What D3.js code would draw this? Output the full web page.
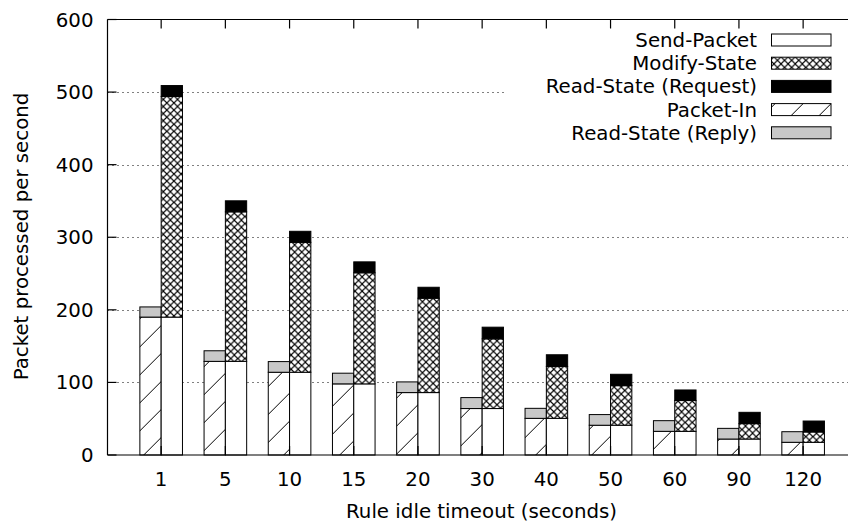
<!DOCTYPE html>
<html>
<head>
<meta charset="utf-8">
<script src="https://cdn.jsdelivr.net/npm/d3@7"></script>
<style>
  body { margin: 0; background: #fff; }
  svg { display: block; font-family: "DejaVu Sans", sans-serif; }
</style>
</head>
<body>
<div id="display"></div>
<script>
// Categories (rule idle timeout, seconds)
const timeouts = ["1", "5", "10", "15", "20", "30", "40", "50", "60", "90", "120"];

// Left bar: Packet-In + Read-State (Reply)
const packetIn   = [190, 129, 114, 98, 86, 64, 50.5, 41, 32.6, 22, 17.5];
const readReply  = [14, 14.6, 14.7, 14.7, 14.7, 15.1, 13.8, 14.7, 14.7, 14.7, 14.6];

// Right bar: Send-Packet + Modify-State + Read-State (Request)
const sendPacket  = [190, 129, 114, 98, 86, 64, 50.5, 41, 32.6, 22, 17.5];
const modifyState = [304, 206, 179, 153, 130, 96, 71.5, 54.5, 42.4, 21.2, 14.2];
const readRequest = [15, 15.2, 15.2, 15.1, 15.1, 16.1, 16.1, 15.7, 14.6, 15.6, 15.1];

const yTicks = [0, 100, 200, 300, 400, 500, 600];

const width = 848, height = 522;
const plot = { left: 107.5, top: 19.5, right: 850, bottom: 455 };
const barW = 21.3;
const fontSize = 19.8;

const svg = d3.select("#display").append("svg")
    .attr("width", width).attr("height", height);

// Fill patterns
const defs = svg.append("defs");
const hatch = defs.append("pattern").attr("id", "hatch")
    .attr("patternUnits", "userSpaceOnUse").attr("width", 28).attr("height", 28)
    .attr("patternTransform", "translate(10.7,0)");
hatch.append("rect").attr("width", 28).attr("height", 28).attr("fill", "#fff");
hatch.append("path").attr("d", "M0,28L28,0M-2,2L2,-2M26,30L30,26")
    .attr("stroke", "#000").attr("stroke-width", 1);

const cross = defs.append("pattern").attr("id", "cross")
    .attr("patternUnits", "userSpaceOnUse").attr("width", 7.1).attr("height", 7.1);
cross.append("rect").attr("width", 7.1).attr("height", 7.1).attr("fill", "#fff");
cross.append("path").attr("d", "M0,0L7.1,7.1M7.1,0L0,7.1")
    .attr("stroke", "#000").attr("stroke-width", 1.1);

const fills = {
    sendPacket: "#fff",
    modifyState: "url(#cross)",
    readRequest: "#000",
    packetIn: "url(#hatch)",
    readReply: "#c8c8c8"
};

const x = d3.scaleLinear().domain([-0.836, 10.73]).range([plot.left, plot.right]);
const y = d3.scaleLinear().domain([0, 600]).range([plot.bottom, plot.top]);

// Grid
svg.append("g").selectAll("line").data(yTicks.filter(d => d > 0 && d < 600)).enter().append("line")
    .attr("x1", plot.left).attr("x2", plot.right)
    .attr("y1", d => Math.round(y(d)) + 0.5).attr("y2", d => Math.round(y(d)) + 0.5)
    .attr("stroke", "#000").attr("stroke-width", 1).attr("stroke-dasharray", "1,4");

// Stacked bars
function stackBars(offset, layers) {
    const g = svg.append("g");
    timeouts.forEach((t, i) => {
        let base = 0;
        layers.forEach(([vals, fill]) => {
            const v = vals[i];
            g.append("rect")
                .attr("x", x(i) + offset)
                .attr("y", y(base + v))
                .attr("width", barW)
                .attr("height", y(base) - y(base + v))
                .attr("fill", fill)
                .attr("stroke", "#000").attr("stroke-width", 1);
            base += v;
        });
    });
}
stackBars(-barW, [[packetIn, fills.packetIn], [readReply, fills.readReply]]);
stackBars(0, [[sendPacket, fills.sendPacket], [modifyState, fills.modifyState], [readRequest, fills.readRequest]]);

// Legend
const legendItems = [
    ["Send-Packet", fills.sendPacket],
    ["Modify-State", fills.modifyState],
    ["Read-State (Request)", fills.readRequest],
    ["Packet-In", fills.packetIn],
    ["Read-State (Reply)", fills.readReply]
];
svg.append("rect").attr("x", 507).attr("y", 25).attr("width", 341).attr("height", 120).attr("fill", "#fff");
const legend = svg.append("g");
legendItems.forEach(([name, fill], i) => {
    const cy = 40 + i * 23.2;
    legend.append("text").attr("x", 757).attr("y", cy + 7)
        .attr("text-anchor", "end").attr("font-size", fontSize).text(name);
    legend.append("rect").attr("x", 771.5).attr("y", cy - 6).attr("width", 59.5).attr("height", 12)
        .attr("fill", fill).attr("stroke", "#000").attr("stroke-width", 1);
});

// Axes frame and ticks
const frame = svg.append("g").attr("stroke", "#000").attr("stroke-width", 1.2);
frame.append("line").attr("x1", plot.left).attr("x2", plot.right).attr("y1", plot.top).attr("y2", plot.top);
frame.append("line").attr("x1", plot.left).attr("x2", plot.right).attr("y1", plot.bottom).attr("y2", plot.bottom);
frame.append("line").attr("x1", plot.left).attr("x2", plot.left).attr("y1", plot.top).attr("y2", plot.bottom);

timeouts.forEach((t, i) => {
    frame.append("line").attr("x1", x(i)).attr("x2", x(i))
        .attr("y1", plot.top).attr("y2", plot.top + 9);
    frame.append("line").attr("x1", x(i)).attr("x2", x(i))
        .attr("y1", plot.bottom).attr("y2", plot.bottom - 9);
});
yTicks.forEach(d => {
    frame.append("line").attr("x1", plot.left).attr("x2", plot.left + 9)
        .attr("y1", y(d)).attr("y2", y(d));
});

// Tick labels
svg.append("g").selectAll("text").data(yTicks).enter().append("text")
    .attr("x", 93.5).attr("y", d => y(d) + 7)
    .attr("text-anchor", "end").attr("font-size", fontSize).text(d => d);

svg.append("g").selectAll("text").data(timeouts).enter().append("text")
    .attr("x", (d, i) => x(i)).attr("y", 486)
    .attr("text-anchor", "middle").attr("font-size", fontSize).text(d => d);

// Axis titles
svg.append("text").attr("x", 481.5).attr("y", 518)
    .attr("text-anchor", "middle").attr("font-size", fontSize).text("Rule idle timeout (seconds)");
svg.append("text").attr("transform", "translate(28,236.5) rotate(-90)")
    .attr("text-anchor", "middle").attr("font-size", fontSize).text("Packet processed per second");
</script>
</body>
</html>
